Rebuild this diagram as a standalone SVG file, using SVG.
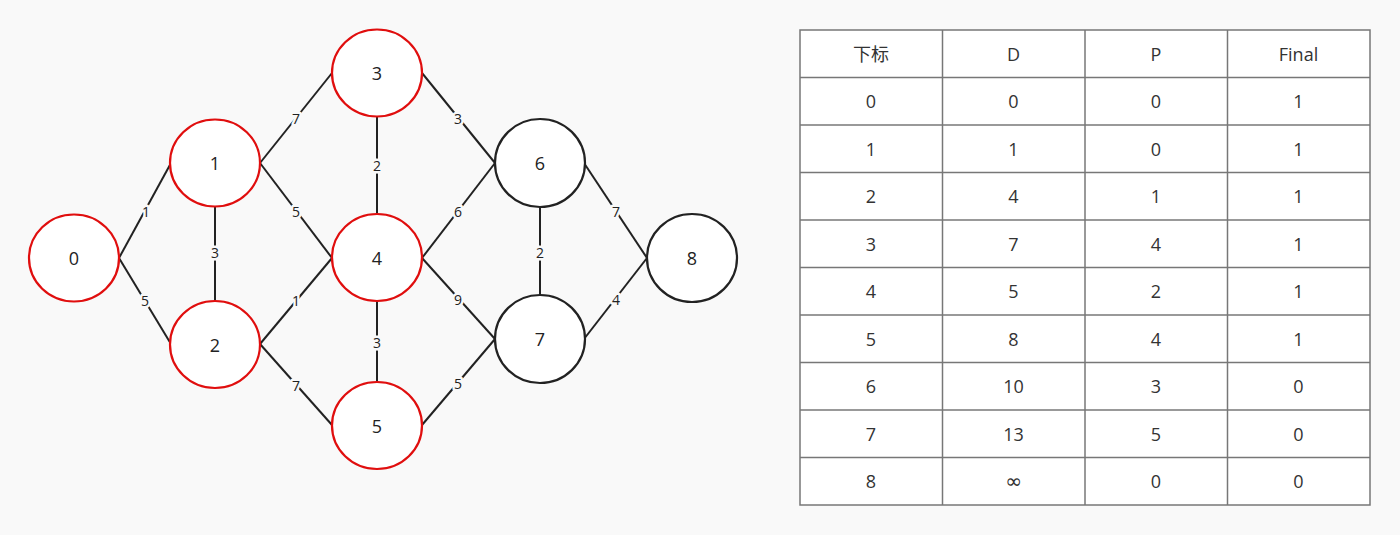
<svg xmlns="http://www.w3.org/2000/svg" width="1400" height="535" viewBox="0 0 1400 535">
<style>
.bg{fill:#f9f9f9}
.n ellipse{fill:#fff;stroke-width:2.2}
.red ellipse{stroke:#e00e0e}
.blk ellipse{stroke:#222}
.n text{font-family:"Open Sans","Noto Sans",sans-serif;font-size:18px;fill:#222;text-anchor:middle;dominant-baseline:central}
.e line{stroke:#222;stroke-width:2}
.e text{font-family:"Open Sans","Noto Sans",sans-serif;font-size:14px;fill:#222;text-anchor:middle;dominant-baseline:central;stroke:#f9f9f9;stroke-width:5;paint-order:stroke;stroke-linejoin:round}
.tb rect{fill:#fff;stroke:#777;stroke-width:1.5}
.tb line{stroke:#777;stroke-width:1.5}
.tb text{font-family:"Open Sans","Noto Sans","Noto Sans CJK SC",sans-serif;font-size:18px;fill:#333;text-anchor:middle;dominant-baseline:central}
.tb .inf{font-family:"DejaVu Sans",sans-serif;font-size:20px}
</style>
<rect class="bg" x="0" y="0" width="1400" height="535"/>
<g id="connectors" class="e">
<line x1="119" y1="258" x2="171" y2="163"/>
<line x1="119" y1="258" x2="171" y2="344"/>
<line x1="215" y1="207" x2="215" y2="301"/>
<line x1="260" y1="163" x2="332" y2="73"/>
<line x1="260" y1="163" x2="332" y2="258"/>
<line x1="260" y1="344" x2="332" y2="258"/>
<line x1="260" y1="344" x2="332" y2="425"/>
<line x1="377" y1="117" x2="377" y2="214"/>
<line x1="377" y1="301" x2="377" y2="382"/>
<line x1="422" y1="73" x2="495" y2="163"/>
<line x1="422" y1="258" x2="495" y2="163"/>
<line x1="422" y1="258" x2="495" y2="339"/>
<line x1="422" y1="425" x2="495" y2="339"/>
<line x1="540" y1="207" x2="540" y2="295"/>
<line x1="584" y1="163" x2="647" y2="258"/>
<line x1="584" y1="339" x2="647" y2="258"/>
<text x="146" y="211">1</text>
<text x="145" y="300">5</text>
<text x="215" y="252">3</text>
<text x="296" y="118">7</text>
<text x="296" y="211">5</text>
<text x="296" y="300">1</text>
<text x="296" y="385">7</text>
<text x="377" y="165">2</text>
<text x="377" y="342">3</text>
<text x="458" y="118">3</text>
<text x="458" y="211">6</text>
<text x="458" y="299">9</text>
<text x="458" y="383">5</text>
<text x="540" y="252">2</text>
<text x="616" y="211">7</text>
<text x="616" y="299">4</text>
</g>
<g id="node0" class="n red"><ellipse cx="74" cy="258" rx="45" ry="43.5"/><text x="74" y="258">0</text></g>
<g id="node1" class="n red"><ellipse cx="215" cy="163" rx="45" ry="43.5"/><text x="215" y="163">1</text></g>
<g id="node2" class="n red"><ellipse cx="215" cy="344.5" rx="45" ry="43.5"/><text x="215" y="344.5">2</text></g>
<g id="node3" class="n red"><ellipse cx="377" cy="73" rx="45" ry="43.5"/><text x="377" y="73">3</text></g>
<g id="node4" class="n red"><ellipse cx="377" cy="257.5" rx="45" ry="43.5"/><text x="377" y="257.5">4</text></g>
<g id="node5" class="n red"><ellipse cx="377" cy="425.5" rx="45" ry="43.5"/><text x="377" y="425.5">5</text></g>
<g id="node6" class="n blk"><ellipse cx="540" cy="163" rx="45" ry="44"/><text x="540" y="163">6</text></g>
<g id="node7" class="n blk"><ellipse cx="540" cy="339" rx="45" ry="44"/><text x="540" y="339">7</text></g>
<g id="node8" class="n blk"><ellipse cx="692" cy="258" rx="45" ry="44"/><text x="692" y="258">8</text></g>
<g id="table" class="tb">
<rect x="800" y="30" width="570" height="475"/>
<line x1="942.5" y1="30" x2="942.5" y2="505"/>
<line x1="1085" y1="30" x2="1085" y2="505"/>
<line x1="1227.5" y1="30" x2="1227.5" y2="505"/>
<line x1="800" y1="77.5" x2="1370" y2="77.5"/>
<line x1="800" y1="125" x2="1370" y2="125"/>
<line x1="800" y1="172.5" x2="1370" y2="172.5"/>
<line x1="800" y1="220" x2="1370" y2="220"/>
<line x1="800" y1="267.5" x2="1370" y2="267.5"/>
<line x1="800" y1="315" x2="1370" y2="315"/>
<line x1="800" y1="362.5" x2="1370" y2="362.5"/>
<line x1="800" y1="410" x2="1370" y2="410"/>
<line x1="800" y1="457.5" x2="1370" y2="457.5"/>
<text x="871" y="54">下标</text><text x="1013.5" y="54">D</text><text x="1156" y="54">P</text><text x="1298.5" y="54">Final</text>
<text x="871" y="101">0</text><text x="1013.5" y="101">0</text><text x="1156" y="101">0</text><text x="1298.5" y="101">1</text>
<text x="871" y="149">1</text><text x="1013.5" y="149">1</text><text x="1156" y="149">0</text><text x="1298.5" y="149">1</text>
<text x="871" y="196">2</text><text x="1013.5" y="196">4</text><text x="1156" y="196">1</text><text x="1298.5" y="196">1</text>
<text x="871" y="244">3</text><text x="1013.5" y="244">7</text><text x="1156" y="244">4</text><text x="1298.5" y="244">1</text>
<text x="871" y="291">4</text><text x="1013.5" y="291">5</text><text x="1156" y="291">2</text><text x="1298.5" y="291">1</text>
<text x="871" y="339">5</text><text x="1013.5" y="339">8</text><text x="1156" y="339">4</text><text x="1298.5" y="339">1</text>
<text x="871" y="386">6</text><text x="1013.5" y="386">10</text><text x="1156" y="386">3</text><text x="1298.5" y="386">0</text>
<text x="871" y="434">7</text><text x="1013.5" y="434">13</text><text x="1156" y="434">5</text><text x="1298.5" y="434">0</text>
<text x="871" y="481">8</text><text class="inf" x="1013.5" y="481">∞</text><text x="1156" y="481">0</text><text x="1298.5" y="481">0</text>
</g>
</svg>
